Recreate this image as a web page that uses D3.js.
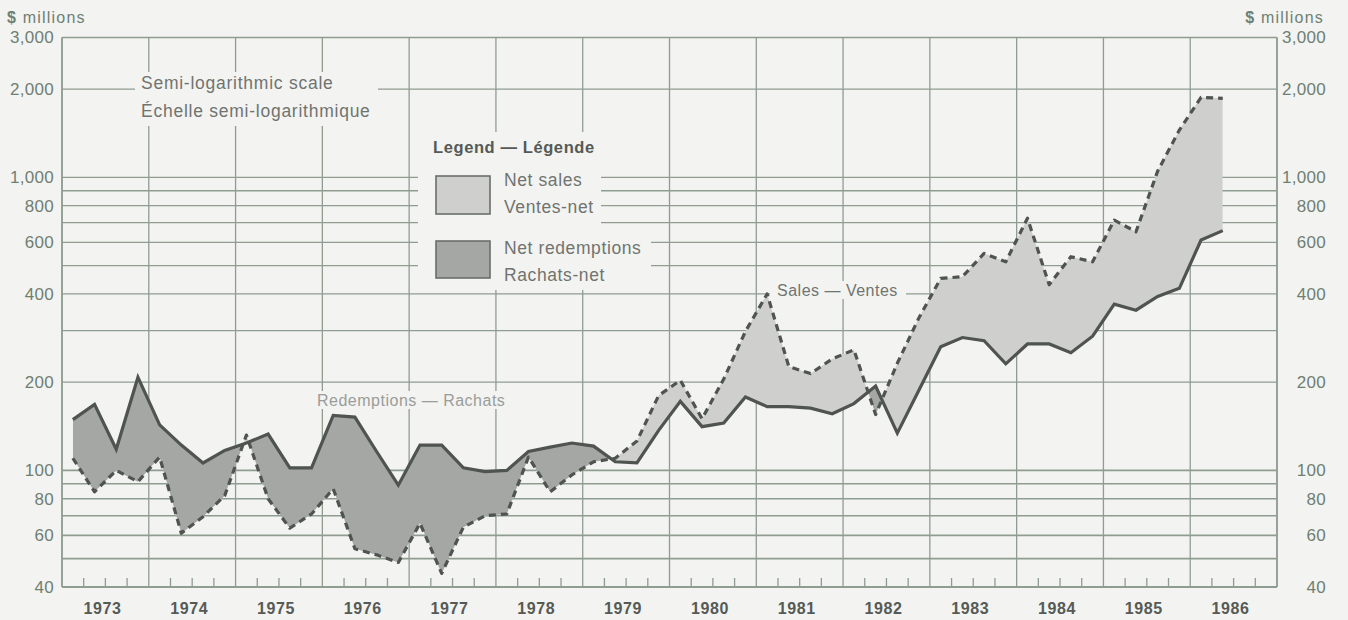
<!DOCTYPE html>
<html>
<head>
<meta charset="utf-8">
<script src="https://cdn.jsdelivr.net/npm/d3@7"></script>
<style>
  html, body { margin: 0; padding: 0; background: #f3f3f1; }
  svg { display: block; font-family: "Liberation Sans", Arial, Helvetica, sans-serif; }
</style>
</head>
<body>
<svg id="chart" width="1348" height="620"></svg>
<script>
// ---- Data (quarterly, $ millions) ----
const years = [1973,1974,1975,1976,1977,1978,1979,1980,1981,1982,1983,1984,1985,1986];
const quartersPerYear = ["Q1","Q2","Q3","Q4"];
const sales = [
  110, 84.5, 100, 91.5,
  111, 61, 69.5, 82,
  132, 80, 63.5, 71,
  86.5, 54, 51.5, 48.5,
  66, 44.5, 64, 70,
  71, 111, 84.5, 96.5,
  107, 110, 126, 180,
  203, 150, 205, 298,
  400, 226, 214, 240,
  258, 155, 232, 332,
  452, 458, 550, 515,
  725, 430, 536, 515,
  714, 652, 1050, 1450,
  1875, 1860
];
const redemptions = [
  149, 168, 118, 208,
  143, 122, 106, 117,
  124, 133, 102, 102,
  154, 152, 116, 89,
  122, 122, 102, 99,
  100, 116, 120, 124,
  121, 107, 106, 137,
  172, 141, 145, 178,
  165, 165, 163, 156,
  169, 194, 134, 188,
  264, 284, 277, 231,
  270, 270, 252, 287,
  369, 352, 392, 418,
  611, 658
];
const gridValues = [40,50,60,70,80,90,100,200,300,400,500,600,700,800,900,1000,2000,3000];
const tickLabels = [40,60,80,100,200,400,600,800,1000,2000,3000];

// ---- Build rows ----
const rows = sales.map((s, i) => ({
  t: years[0] + (i + 0.5) / 4,
  label: years[Math.floor(i / 4)] + " " + quartersPerYear[i % 4],
  s: s,
  r: redemptions[i]
}));

// ---- Layout ----
const svg = d3.select("#chart");
const L = 62, R = 1277, T = 37.5, B = 587;
const x = d3.scaleLinear().domain([years[0], years[years.length - 1] + 1]).range([L, R]);
const y = d3.scaleLog().domain([40, 3000]).range([B, T]);

const bg = "#f3f3f1";
const gridCol = "#8f9d91";
const labelCol = "#6f7f72";
const lineCol = "#4f5450";
const lightFill = "#cfd0cd";
const darkFill = "#a5a7a4";

svg.append("rect").attr("width", 1348).attr("height", 620).attr("fill", bg);

// horizontal grid
svg.append("g").selectAll("line").data(gridValues).join("line")
  .attr("x1", L).attr("x2", R)
  .attr("y1", d => y(d)).attr("y2", d => y(d))
  .attr("stroke", gridCol).attr("stroke-width", d => d <= 100 ? 1.6 : 1.3);

// vertical year grid
const yearEdges = years.concat([years[years.length - 1] + 1]);
svg.append("g").selectAll("line").data(yearEdges).join("line")
  .attr("x1", d => x(d)).attr("x2", d => x(d))
  .attr("y1", T).attr("y2", B)
  .attr("stroke", gridCol).attr("stroke-width", 1.3);

// quarter ticks
const qTicks = [];
years.forEach(yr => [0.25, 0.5, 0.75].forEach(f => qTicks.push(yr + f)));
svg.append("g").selectAll("line").data(qTicks).join("line")
  .attr("x1", d => x(d)).attr("x2", d => x(d))
  .attr("y1", B).attr("y2", B - 9)
  .attr("stroke", gridCol).attr("stroke-width", 1.3);

// axes frame
svg.append("line").attr("x1", L).attr("x2", L).attr("y1", T).attr("y2", B).attr("stroke", gridCol).attr("stroke-width", 1.6);
svg.append("line").attr("x1", R).attr("x2", R).attr("y1", T).attr("y2", B).attr("stroke", gridCol).attr("stroke-width", 1.6);
svg.append("line").attr("x1", L).attr("x2", R).attr("y1", B).attr("y2", B).attr("stroke", gridCol).attr("stroke-width", 1.8);

// background boxes behind annotations (break gridlines)
const boxes = [
  [135, 72, 243, 54],
  [418, 132, 183, 100],
  [418, 232, 233, 58],
  [312, 391, 208, 18],
  [770, 281, 136, 18]
];
svg.append("g").selectAll("rect").data(boxes).join("rect")
  .attr("x", d => d[0]).attr("y", d => d[1]).attr("width", d => d[2]).attr("height", d => d[3])
  .attr("fill", bg);

// ---- Difference areas ----
const defs = svg.append("defs");
defs.append("clipPath").attr("id", "clipAbove").append("path")
  .attr("d", d3.area().x(d => x(d.t)).y0(0).y1(d => y(d.r))(rows));
defs.append("clipPath").attr("id", "clipBelow").append("path")
  .attr("d", d3.area().x(d => x(d.t)).y0(620).y1(d => y(d.r))(rows));

const band = d3.area().x(d => x(d.t)).y0(d => y(d.r)).y1(d => y(d.s));
svg.append("path").attr("d", band(rows)).attr("fill", lightFill).attr("clip-path", "url(#clipAbove)");
svg.append("path").attr("d", band(rows)).attr("fill", darkFill).attr("clip-path", "url(#clipBelow)");

// ---- Lines ----
svg.append("path")
  .attr("d", d3.line().x(d => x(d.t)).y(d => y(d.r))(rows))
  .attr("fill", "none").attr("stroke", lineCol).attr("stroke-width", 3.2)
  .attr("stroke-linejoin", "miter");
svg.append("path")
  .attr("d", d3.line().x(d => x(d.t)).y(d => y(d.s))(rows))
  .attr("fill", "none").attr("stroke", lineCol).attr("stroke-width", 3.2)
  .attr("stroke-dasharray", "7,5").attr("stroke-linejoin", "round");

// ---- Axis labels ----
const fmt = d3.format(",");
svg.append("g").selectAll("text").data(tickLabels).join("text")
  .attr("x", 54).attr("y", d => y(d)).attr("dy", "0.35em")
  .attr("text-anchor", "end").attr("fill", labelCol)
  .style("font-size", "17px").style("letter-spacing", "0.3px")
  .text(d => fmt(d));
svg.append("g").selectAll("text").data(tickLabels).join("text")
  .attr("x", 1326).attr("y", d => y(d)).attr("dy", "0.35em")
  .attr("text-anchor", "end").attr("fill", labelCol)
  .style("font-size", "17px").style("letter-spacing", "0.3px")
  .text(d => fmt(d));

svg.append("g").selectAll("text").data(years).join("text")
  .attr("x", d => x(d + 0.5) - 3).attr("y", 608).attr("dy", "0.35em")
  .attr("text-anchor", "middle").attr("fill", "#555a56")
  .style("font-size", "16px").style("font-weight", "bold").style("letter-spacing", "0.6px")
  .text(d => d);

// units
function units(xp, anchor) {
  const t = svg.append("text").attr("x", xp).attr("y", 17).attr("dy", "0.35em")
    .attr("text-anchor", anchor).attr("fill", labelCol)
    .style("font-size", "16px").style("letter-spacing", "1.2px");
  t.append("tspan").style("font-weight", "bold").text("$");
  t.append("tspan").text(" millions");
}
units(7, "start");
units(1324, "end");

// annotation text
const annCol = "#707470";
svg.append("text").attr("x", 141).attr("y", 83).attr("dy", "0.35em").attr("fill", annCol)
  .style("font-size", "17.5px").style("letter-spacing", "0.75px").text("Semi-logarithmic scale");
svg.append("text").attr("x", 141).attr("y", 111).attr("dy", "0.35em").attr("fill", annCol)
  .style("font-size", "17.5px").style("letter-spacing", "0.75px").text("Échelle semi-logarithmique");

// legend
svg.append("text").attr("x", 433).attr("y", 147).attr("dy", "0.35em").attr("fill", "#555a56")
  .style("font-size", "16.5px").style("font-weight", "bold").style("letter-spacing", "0.6px")
  .text("Legend — Légende");
svg.append("rect").attr("x", 436).attr("y", 176).attr("width", 54).attr("height", 38)
  .attr("fill", lightFill).attr("stroke", "#6a6e6a").attr("stroke-width", 1.6);
svg.append("rect").attr("x", 436).attr("y", 241).attr("width", 54).attr("height", 37)
  .attr("fill", darkFill).attr("stroke", "#6a6e6a").attr("stroke-width", 1.6);
const legTexts = [["Net sales", 180], ["Ventes-net", 207], ["Net redemptions", 248], ["Rachats-net", 275]];
svg.append("g").selectAll("text").data(legTexts).join("text")
  .attr("x", 504).attr("y", d => d[1]).attr("dy", "0.35em").attr("fill", annCol)
  .style("font-size", "17.5px").style("letter-spacing", "0.6px")
  .text(d => d[0]);

// series labels
svg.append("text").attr("x", 317).attr("y", 400).attr("dy", "0.35em").attr("fill", "#9a9d9a")
  .style("font-size", "16px").style("letter-spacing", "0.5px").text("Redemptions — Rachats");
svg.append("text").attr("x", 777).attr("y", 290).attr("dy", "0.35em").attr("fill", annCol)
  .style("font-size", "16px").style("letter-spacing", "0.5px").text("Sales — Ventes");
</script>
</body>
</html>
